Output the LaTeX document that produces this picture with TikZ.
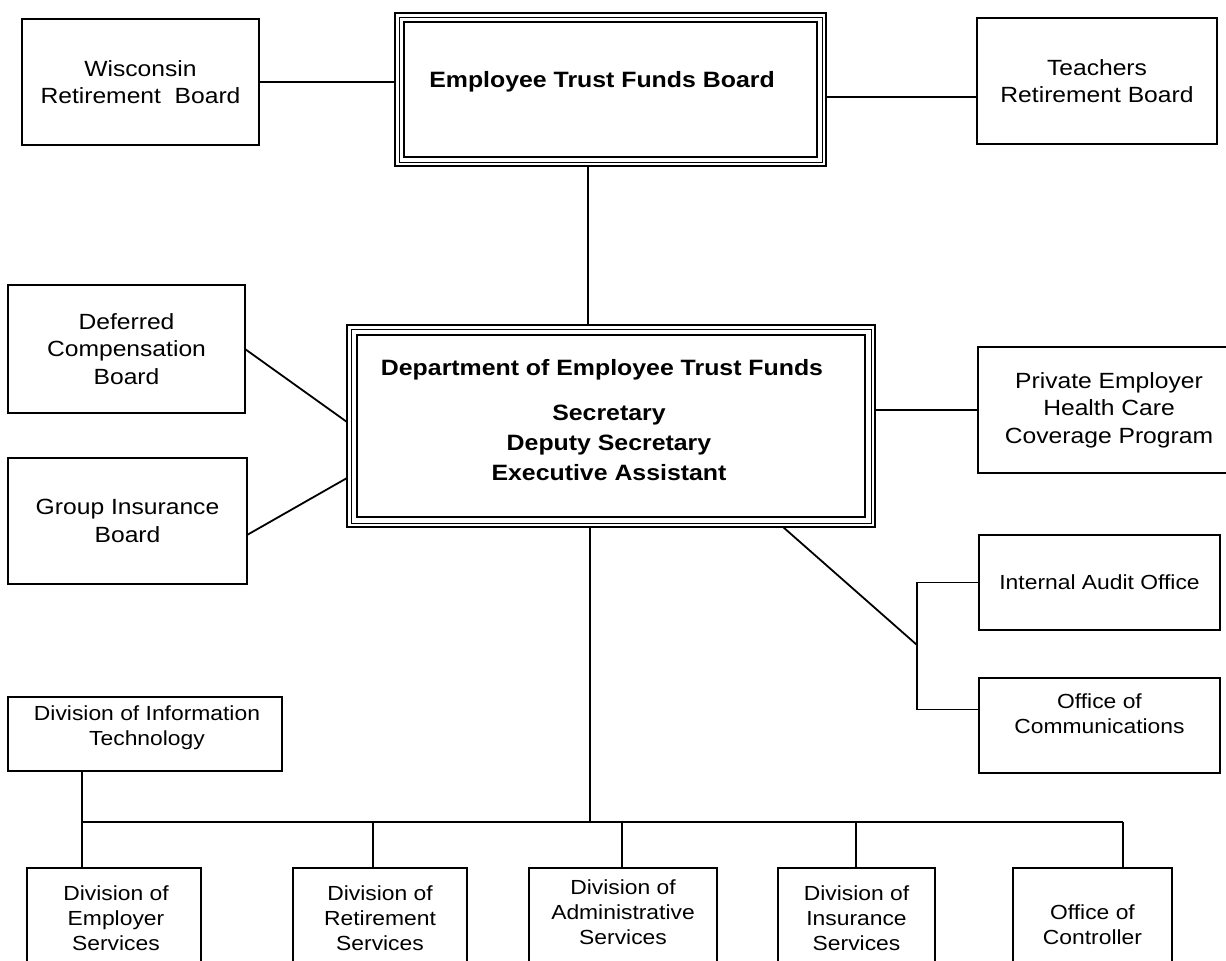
\documentclass[tikz,border=0pt]{standalone}
\usepackage{fontspec}
\setmainfont{Liberation Sans}[FakeStretch=1.12]
\usetikzlibrary{calc}
\newcommand\orgbig{\fontsize{11}{13.8}\selectfont}
\newcommand\orgsmall{\fontsize{10.2}{12.6}\selectfont}
\newcommand\orgbold{\fontsize{11.1}{15}\selectfont\bfseries}
\begin{document}
\begin{tikzpicture}[x=0.5pt,y=-0.5pt,
  every node/.style={outer sep=0pt},
  box/.style={draw, line width=0.9pt, inner sep=0pt, align=center, font=\orgbig},
  sbox/.style={box, font=\orgsmall},
  txt/.style={inner sep=0pt, align=center, font=\orgsmall},
  btxt/.style={inner sep=0pt, align=center, font=\orgbold},
  conn/.style={line width=0.9pt},
  triple/.style={draw, line width=1.3pt, inner sep=0pt},
  thinline/.style={line width=0.5pt},
  thickline/.style={line width=1.3pt}]
\path[use as bounding box, clip] (0,0) rectangle (1226,960);
\fill[white] (0,0) rectangle (1226,960);

% top row
\node[box, minimum width=118.5pt, minimum height=63pt] (wisc) at (140.5,82) {Wisconsin\\Retirement~~Board};
\node[box, minimum width=120pt, minimum height=63pt] (teach) at (1097,81) {Teachers\\Retirement Board};
\node[triple, minimum width=215.5pt, minimum height=76.5pt] (etf) at (610.5,89.5) {};
\draw[thinline] ([shift={(4,4)}]etf.north west) rectangle ([shift={(-4,-4)}]etf.south east);
\draw[thickline] ([shift={(9,9)}]etf.north west) rectangle ([shift={(-9,-9)}]etf.south east);
\node[btxt] (etftext) at (602,82) {Employee Trust Funds Board};

% department
\node[triple, minimum width=264pt, minimum height=101pt] (dept) at (611,426) {};
\draw[thinline] ([shift={(4,4)}]dept.north west) rectangle ([shift={(-4,-4)}]dept.south east);
\draw[thickline] ([shift={(10,10)}]dept.north west) rectangle ([shift={(-10,-10)}]dept.south east);
\node[btxt] (deptname) at (602,370) {Department of Employee Trust Funds};
\node[btxt] (deptoff) at (609,443) {Secretary\\Deputy Secretary\\Executive Assistant};

% side boxes
\node[box, minimum width=118.5pt, minimum height=64pt] (defc) at (126.5,349) {Deferred\\Compensation\\Board};
\node[box, minimum width=119.5pt, minimum height=63pt] (gib) at (127.5,521) {Group Insurance\\Board};
\node[box, minimum width=131pt, minimum height=63pt] (peh) at (1109,410) {Private Employer\\Health Care\\Coverage Program};
\node[sbox, minimum width=120.5pt, minimum height=47.5pt] (audit) at (1099.5,582.5) {Internal Audit Office};
\node[sbox, minimum width=120.5pt, minimum height=47.5pt] (comm) at (1099.5,725.5) {};
\node[txt] (commtext) at (1099.5,713.5) {Office of\\Communications};
\node[sbox, minimum width=137pt, minimum height=37pt] (dit) at (145,734) {};
\node[txt] (dittext) at (147,728) {Division of Information\\Technology};

% bottom row
\node[sbox, minimum width=87pt, minimum height=61pt] (emp) at (114,929) {};
\node[txt] (emptext) at (116,918) {Division of\\Employer\\Services};
\node[sbox, minimum width=87pt, minimum height=61pt] (ret) at (380,929) {};
\node[txt] (rettext) at (380,918) {Division of\\Retirement\\Services};
\node[sbox, minimum width=94pt, minimum height=61pt] (adm) at (623,929) {};
\node[txt] (admtext) at (623,912) {Division of\\Administrative\\Services};
\node[sbox, minimum width=78.5pt, minimum height=61pt] (ins) at (856.5,929) {};
\node[txt] (instext) at (856.5,918) {Division of\\Insurance\\Services};
\node[sbox, minimum width=79.5pt, minimum height=61pt] (con) at (1092.5,929) {};
\node[txt] (context) at (1092.5,924.5) {Office of\\Controller};

% connectors
\draw[conn] (wisc.east) -- (wisc.east -| etf.west);
\coordinate (tj) at ($(teach.west)+(0,16)$);
\draw[conn] (tj -| etf.east) -- (tj);
\coordinate (vtop) at (588,0);
\draw[conn] (vtop |- etf.south) -- (vtop |- dept.north);
\draw[conn] (defc.east) -- ($(dept.west)+(0,-4)$);
\draw[conn] ($(gib.east)+(0,14)$) -- ($(dept.west)+(0,52)$);
\draw[conn] (dept.east |- peh.west) -- (peh.west);
\coordinate (br) at (917,645);
\coordinate (dx) at (783,0);
\draw[conn] (dx |- dept.south) -- (br);
\coordinate (cj) at ($(comm.west)+(0,-16)$);
\draw[conn] (audit.west) -- (audit.west -| br) -- (cj -| br) -- (cj);

\coordinate (jmain) at (590,822);
\coordinate (jemp) at (82,822);
\coordinate (jret) at (373,822);
\coordinate (jadm) at (622,822);
\coordinate (jins) at (856,822);
\coordinate (jcon) at (1123,822);
\draw[conn] (jmain |- dept.south) -- (jmain);
\draw[conn] (jemp) -- (jcon);
\draw[conn] (jemp |- dit.south) -- (jemp) -- (jemp |- emp.north);
\foreach \j/\n in {jret/ret, jadm/adm, jins/ins, jcon/con}
  \draw[conn] (\j) -- (\j |- \n.north);
\end{tikzpicture}
\end{document}
